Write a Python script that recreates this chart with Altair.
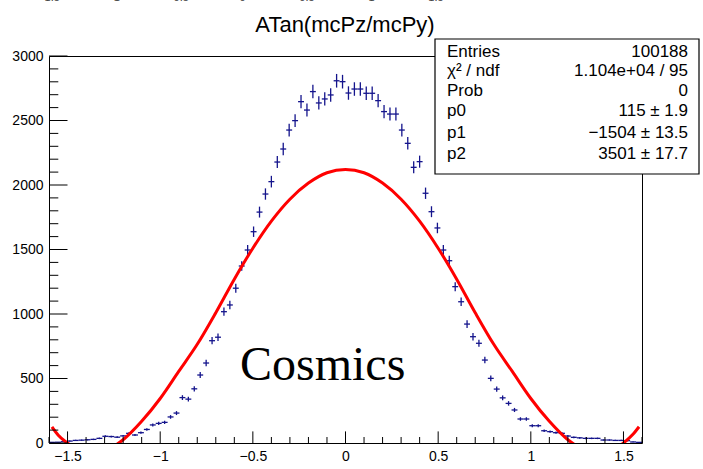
import altair as alt
import numpy as np
import pandas as pd

# ---------------- data ----------------
# histogram: 100 bins from -1.6 to 1.6
bin_lo, bin_hi, n_bins = -1.6, 1.6, 100
counts = [
    5, 6, 10, 15, 20, 22, 25, 28, 36, 52, 50, 45, 55, 75, 62, 80, 105, 140, 152, 160, 202, 232, 352, 340, 420,
    527, 620, 793, 820, 1018, 1070, 1200, 1372, 1496, 1638, 1790, 1930, 2026, 2178, 2279, 2426, 2499, 2646, 2581, 2724, 2636, 2667, 2698, 2808, 2801,
    2713, 2744, 2744, 2711, 2711, 2654, 2569, 2550, 2550, 2426, 2323, 2137, 2181, 1936, 1793, 1667, 1496, 1413, 1212, 1095, 922, 824, 773, 643, 501,
    418, 350, 307, 256, 186, 186, 134, 134, 95, 88, 80, 75, 54, 44, 40, 36, 36, 36, 23, 23, 20, 20, 18, 8, 5,
]

# fitted curve (red)
fit_x = [-1.584, -1.55, -1.5, -1.4, -1.3, -1.2, -1.1, -1.0, -0.9, -0.8, -0.7, -0.6, -0.5, -0.4, -0.3, -0.2, -0.1, 0.0,
         0.1, 0.2, 0.3, 0.4, 0.5, 0.6, 0.7, 0.8, 0.9, 1.0, 1.1, 1.2, 1.3, 1.4, 1.5, 1.55, 1.584]
fit_y = [125, 60, 0, -90, -60, 25, 168, 345, 555, 765, 1010, 1270, 1510, 1720, 1890, 2015, 2095, 2121,
         2095, 2015, 1890, 1720, 1510, 1270, 1010, 765, 555, 345, 168, 25, -60, -90, 0, 65, 126]

x_major = [-1.5, -1.0, -0.5, 0.0, 0.5, 1.0, 1.5]
x_minor = [-1.6, -1.4, -1.3, -1.2, -1.1, -0.9, -0.8, -0.7, -0.6, -0.4, -0.3, -0.2, -0.1,
           0.1, 0.2, 0.3, 0.4, 0.6, 0.7, 0.8, 0.9, 1.1, 1.2, 1.3, 1.4, 1.6]
y_major = [0, 500, 1000, 1500, 2000, 2500, 3000]
y_minor = [100, 200, 300, 400, 600, 700, 800, 900, 1100, 1200, 1300, 1400, 1600, 1700, 1800, 1900,
           2100, 2200, 2300, 2400, 2600, 2700, 2800, 2900]

# tick labels of the panel above, cut off at the top edge of the picture
top_labels = ["−1.5", "−1", "−0.5", "0", "0.5", "1", "1.5"]

title_text = "ATan(mcPz/mcPy)"
stat_labels = ["Entries", "χ² / ndf", "Prob", "p0", "p1", "p2"]
stat_values = ["100188", "1.104e+04 / 95", "0", "115 ± 1.9", "−1504 ± 13.5", "3501 ± 17.7"]
annot_text = "Cosmics"

# ---------------- styling ----------------
W, H = 593, 387
BLUE = "#14148c"
RED = "#ff0000"
SANS = "Liberation Sans"

edges = np.linspace(bin_lo, bin_hi, n_bins + 1)
centers = (edges[:-1] + edges[1:]) / 2
half = (bin_hi - bin_lo) / n_bins / 2
hist = pd.DataFrame({"x": centers, "n": counts})
fit = pd.DataFrame({"x": fit_x, "y": fit_y})

xs = alt.Scale(domain=[bin_lo, bin_hi], nice=False, zero=False)
ys = alt.Scale(domain=[0, 3000], nice=False)

xaxis = alt.Axis(values=x_major, format="~g", title=None, ticks=False, domain=False, grid=False,
                 labelFont=SANS, labelFontSize=14, labelColor="black", labelPadding=6)
yaxis = alt.Axis(values=y_major, format="d", title=None, ticks=False, domain=False, grid=False,
                 labelFont=SANS, labelFontSize=14, labelColor="black", labelPadding=6)

hbase = alt.Chart(hist).transform_calculate(
    lo="datum.n - sqrt(datum.n)", hi="datum.n + sqrt(datum.n)",
    xl=f"datum.x - {half}", xr=f"datum.x + {half}")

vbars = hbase.mark_rule(color=BLUE, strokeWidth=1.3).encode(
    x=alt.X("x:Q", scale=xs, axis=xaxis),
    y=alt.Y("lo:Q", scale=ys, axis=yaxis),
    y2="hi:Q")
hbars = hbase.mark_rule(color=BLUE, strokeWidth=1.3).encode(
    x=alt.X("xl:Q", scale=xs, axis=xaxis),
    x2="xr:Q",
    y=alt.Y("n:Q", scale=ys, axis=yaxis))

curve = alt.Chart(fit).mark_line(color=RED, strokeWidth=3, clip=True, interpolate="monotone").encode(
    x=alt.X("x:Q", scale=xs, axis=xaxis),
    y=alt.Y("y:Q", scale=ys, axis=yaxis))

def xticks(vals, length):
    return alt.Chart(pd.DataFrame({"t": vals})).mark_rule(color="black", strokeWidth=1).encode(
        x=alt.X("t:Q", scale=xs, axis=xaxis), y=alt.value(H), y2=alt.value(H - length))

def yticks(vals, length):
    return alt.Chart(pd.DataFrame({"t": vals})).mark_rule(color="black", strokeWidth=1).encode(
        y=alt.Y("t:Q", scale=ys, axis=yaxis), x=alt.value(0), x2=alt.value(length))

one = pd.DataFrame({"a": [0]})

title = alt.Chart(one).mark_text(text=title_text, font=SANS, fontSize=22, color="black",
                                 align="center", baseline="alphabetic").encode(
    x=alt.value(296), y=alt.value(-24.5))

annot = alt.Chart(one).mark_text(text=annot_text, font="Liberation Serif", fontSize=48, color="black",
                                 align="left", baseline="alphabetic").encode(
    x=alt.value(191), y=alt.value(324))

box = alt.Chart(one).mark_rect(fill="white", stroke="black", strokeWidth=1.2).encode(
    x=alt.value(386), x2=alt.value(650), y=alt.value(-17), y2=alt.value(118))

row_base = [0.5, 20, 39.5, 60, 81.5, 103]
stat_layers = []
for lab, val, yb in zip(stat_labels, stat_values, row_base):
    stat_layers.append(alt.Chart(one).mark_text(text=lab, font=SANS, fontSize=17, color="black",
                                                align="left", baseline="alphabetic").encode(
        x=alt.value(398), y=alt.value(yb)))
    stat_layers.append(alt.Chart(one).mark_text(text=val, font=SANS, fontSize=17, color="black",
                                                align="right", baseline="alphabetic").encode(
        x=alt.value(639), y=alt.value(yb)))

top_layers = []
for i, lab in enumerate(top_labels):
    top_layers.append(alt.Chart(one).mark_text(text=lab, font=SANS, fontSize=11, color="#444444",
                                               align="center", baseline="alphabetic").encode(
        x=alt.value(0 + 64.5 * i), y=alt.value(-55.5)))

chart = alt.layer(
    vbars, hbars, curve,
    xticks(x_major, 11.6), xticks(x_minor, 6),
    yticks(y_major, 18.5), yticks(y_minor, 9.3),
    title, annot, box, *stat_layers, *top_layers,
).properties(
    width=W, height=H,
    autosize=alt.AutoSizeParams(type="none"),
    padding={"left": 49, "top": 56, "right": 61, "bottom": 26},
    background="white",
).configure_view(stroke="black", strokeWidth=1)

chart.save("out.html", embed_options={"renderer": "svg", "actions": False})
